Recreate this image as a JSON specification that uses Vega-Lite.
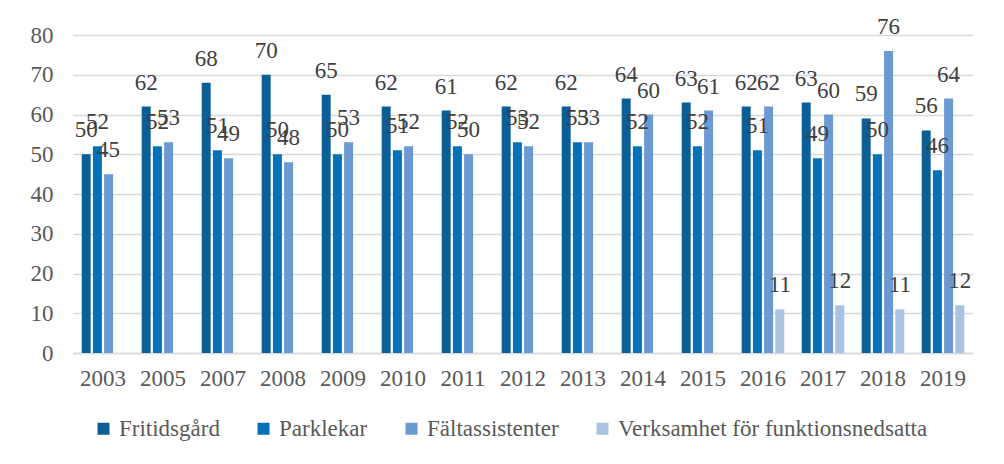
{
  "$schema": "https://vega.github.io/schema/vega-lite/v6.json",
  "width": 900,
  "height": 318,
  "autosize": {"type": "none"},
  "padding": {"left": 73, "top": 35, "right": 31, "bottom": 111},
  "background": "white",
  "config": {
    "view": {"stroke": null},
    "font": "Liberation Serif"
  },
  "data": {
    "values": [
      {"year": "2003", "series": "Fritidsgård", "value": 50},
      {"year": "2003", "series": "Parklekar", "value": 52},
      {"year": "2003", "series": "Fältassistenter", "value": 45},
      {"year": "2005", "series": "Fritidsgård", "value": 62},
      {"year": "2005", "series": "Parklekar", "value": 52},
      {"year": "2005", "series": "Fältassistenter", "value": 53},
      {"year": "2007", "series": "Fritidsgård", "value": 68},
      {"year": "2007", "series": "Parklekar", "value": 51},
      {"year": "2007", "series": "Fältassistenter", "value": 49},
      {"year": "2008", "series": "Fritidsgård", "value": 70},
      {"year": "2008", "series": "Parklekar", "value": 50},
      {"year": "2008", "series": "Fältassistenter", "value": 48},
      {"year": "2009", "series": "Fritidsgård", "value": 65},
      {"year": "2009", "series": "Parklekar", "value": 50},
      {"year": "2009", "series": "Fältassistenter", "value": 53},
      {"year": "2010", "series": "Fritidsgård", "value": 62},
      {"year": "2010", "series": "Parklekar", "value": 51},
      {"year": "2010", "series": "Fältassistenter", "value": 52},
      {"year": "2011", "series": "Fritidsgård", "value": 61},
      {"year": "2011", "series": "Parklekar", "value": 52},
      {"year": "2011", "series": "Fältassistenter", "value": 50},
      {"year": "2012", "series": "Fritidsgård", "value": 62},
      {"year": "2012", "series": "Parklekar", "value": 53},
      {"year": "2012", "series": "Fältassistenter", "value": 52},
      {"year": "2013", "series": "Fritidsgård", "value": 62},
      {"year": "2013", "series": "Parklekar", "value": 53},
      {"year": "2013", "series": "Fältassistenter", "value": 53},
      {"year": "2014", "series": "Fritidsgård", "value": 64},
      {"year": "2014", "series": "Parklekar", "value": 52},
      {"year": "2014", "series": "Fältassistenter", "value": 60},
      {"year": "2015", "series": "Fritidsgård", "value": 63},
      {"year": "2015", "series": "Parklekar", "value": 52},
      {"year": "2015", "series": "Fältassistenter", "value": 61},
      {"year": "2016", "series": "Fritidsgård", "value": 62},
      {"year": "2016", "series": "Parklekar", "value": 51},
      {"year": "2016", "series": "Fältassistenter", "value": 62},
      {"year": "2016", "series": "Verksamhet för funktionsnedsatta", "value": 11},
      {"year": "2017", "series": "Fritidsgård", "value": 63},
      {"year": "2017", "series": "Parklekar", "value": 49},
      {"year": "2017", "series": "Fältassistenter", "value": 60},
      {"year": "2017", "series": "Verksamhet för funktionsnedsatta", "value": 12},
      {"year": "2018", "series": "Fritidsgård", "value": 59},
      {"year": "2018", "series": "Parklekar", "value": 50},
      {"year": "2018", "series": "Fältassistenter", "value": 76},
      {"year": "2018", "series": "Verksamhet för funktionsnedsatta", "value": 11},
      {"year": "2019", "series": "Fritidsgård", "value": 56},
      {"year": "2019", "series": "Parklekar", "value": 46},
      {"year": "2019", "series": "Fältassistenter", "value": 64},
      {"year": "2019", "series": "Verksamhet för funktionsnedsatta", "value": 12}
    ]
  },
  "encoding": {
    "x": {
      "field": "year",
      "type": "nominal",
      "sort": null,
      "scale": {"paddingInner": 0.29, "paddingOuter": 0.145},
      "axis": {
        "title": null,
        "labelAngle": 0,
        "labelFont": "Liberation Serif",
        "labelFontSize": 23,
        "labelColor": "#595959",
        "labelPadding": 14,
        "ticks": false,
        "domainColor": "#D9D9D9",
        "domainWidth": 1.5
      }
    },
    "xOffset": {
      "field": "series",
      "type": "nominal",
      "scale": {
        "domain": ["Fritidsgård", "Parklekar", "Fältassistenter", "Verksamhet för funktionsnedsatta"],
        "paddingInner": 0.2,
        "paddingOuter": 0
      }
    },
    "y": {
      "field": "value",
      "type": "quantitative",
      "scale": {"domain": [0, 80], "nice": false},
      "axis": {
        "title": null,
        "values": [0, 10, 20, 30, 40, 50, 60, 70, 80],
        "labelFont": "Liberation Serif",
        "labelFontSize": 23,
        "labelColor": "#595959",
        "labelPadding": 20,
        "ticks": false,
        "domain": false,
        "gridColor": "#D9D9D9",
        "gridWidth": 1.5
      }
    }
  },
  "layer": [
    {
      "mark": {"type": "bar"},
      "encoding": {
        "color": {
          "field": "series",
          "type": "nominal",
          "scale": {
            "domain": ["Fritidsgård", "Parklekar", "Fältassistenter", "Verksamhet för funktionsnedsatta"],
            "range": ["#0B5E96", "#0372B9", "#6A9AD1", "#ABC3E2"]
          },
          "legend": {
            "title": null,
            "orient": "none",
            "direction": "horizontal",
            "legendX": 19,
            "legendY": 382,
            "symbolType": "square",
            "symbolSize": 144,
            "symbolStrokeWidth": 0,
            "labelFont": "Liberation Serif",
            "labelFontSize": 23,
            "labelColor": "#595959",
            "labelOffset": 4,
            "columnPadding": 32,
            "labelLimit": 500
          }
        }
      }
    },
    {
      "mark": {
        "type": "text",
        "baseline": "alphabetic",
        "align": "center",
        "dy": -17,
        "font": "Liberation Serif",
        "fontSize": 23,
        "color": "#404040"
      },
      "encoding": {
        "text": {"field": "value", "type": "quantitative"}
      }
    }
  ]
}
